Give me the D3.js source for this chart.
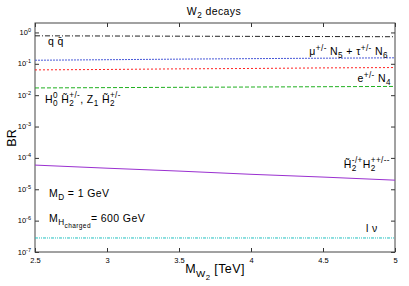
<!DOCTYPE html>
<html>
<head>
<meta charset="utf-8">
<script src="https://cdn.jsdelivr.net/npm/d3@7"></script>
<style>
  body { margin: 0; background: #fff; }
  svg { display: block; font-family: "Liberation Sans", Arial, sans-serif; }
</style>
</head>
<body>
<svg id="chart" width="409" height="286"></svg>
<script>
// data
const massW2 = [2.5, 3, 3.5, 4, 4.5, 5];
const brQQ = [0.78, 0.77, 0.76, 0.75, 0.74, 0.73];
const brMuTau = [0.130, 0.135, 0.141, 0.146, 0.151, 0.155];
const brE = [0.064, 0.066, 0.069, 0.071, 0.074, 0.076];
const brHZ = [0.0170, 0.0174, 0.0178, 0.0182, 0.0186, 0.0190];
const brHH = [5.9e-5, 4.7e-5, 3.8e-5, 3.0e-5, 2.45e-5, 1.95e-5];
const brLNu = [2.8e-7, 2.8e-7, 2.8e-7, 2.8e-7, 2.8e-7, 2.8e-7];
const xTicks = [2.5, 3, 3.5, 4, 4.5, 5];
const yTicks = [1e-7, 1e-6, 1e-5, 1e-4, 1e-3, 1e-2, 1e-1, 1];

const svg = d3.select('#chart');
const margin = { left: 35, right: 14, top: 23, bottom: 34 };
const W = 409, H = 286;

const x = d3.scaleLinear().domain([2.5, 5]).range([margin.left, W - margin.right]);
const y = d3.scaleLog().domain([1e-7, 2]).range([H - margin.bottom, margin.top]);

const tickLen = 4;

// axes (gnuplot style, ticks inside, mirrored)
svg.append('g')
    .attr('transform', 'translate(0,' + (H - margin.bottom) + ')')
    .call(d3.axisBottom(x).tickValues(xTicks).tickSize(-tickLen).tickPadding(6)
        .tickFormat(d => d))
    .call(g => g.selectAll('text').attr('font-size', 7.5).attr('fill', '#000')
        .attr('font-family', '"Liberation Sans", Arial, sans-serif'));
svg.append('g')
    .attr('transform', 'translate(0,' + margin.top + ')')
    .call(d3.axisTop(x).tickValues(xTicks).tickSize(-tickLen).tickFormat(''));

let yAxis = svg.append('g')
    .attr('transform', 'translate(' + margin.left + ',0)')
    .call(d3.axisLeft(y).tickValues(yTicks).tickSize(-tickLen).tickPadding(5).tickFormat(''));
svg.append('g')
    .attr('transform', 'translate(' + (W - margin.right) + ',0)')
    .call(d3.axisRight(y).tickValues(yTicks).tickSize(-tickLen).tickFormat(''));

svg.selectAll('.domain').remove();
svg.selectAll('.tick line').attr('stroke', '#333');

// y tick labels: 10^n
yAxis.selectAll('.tick').each(function (d) {
    let t = d3.select(this).append('text')
        .attr('x', -4).attr('y', 2)
        .attr('text-anchor', 'end')
        .attr('fill', '#000')
        .attr('font-size', 7.5)
        .attr('font-family', '"Liberation Sans", Arial, sans-serif');
    t.append('tspan').text('10');
    t.append('tspan').attr('dy', -3).attr('font-size', 5.5).text(Math.round(Math.log10(d)));
});

// frame
svg.append('rect')
    .attr('x', margin.left).attr('y', margin.top)
    .attr('width', W - margin.left - margin.right)
    .attr('height', H - margin.top - margin.bottom)
    .attr('fill', 'none').attr('stroke', '#444').attr('stroke-width', 1);

// curves
const series = [
    { v: brQQ, color: '#222', dash: '5,2,1,2' },
    { v: brMuTau, color: '#4858d8', dash: '2,1' },
    { v: brE, color: '#ff2020', dash: '2,2' },
    { v: brHZ, color: '#20b020', dash: '4,2' },
    { v: brHH, color: '#9a30d0', dash: null },
    { v: brLNu, color: '#20c0c0', dash: '3,1,1,1,1,1' }
];
const line = d3.line().x((d, i) => x(massW2[i])).y(d => y(d));
series.forEach(s => {
    svg.append('path')
        .datum(s.v)
        .attr('d', line)
        .attr('fill', 'none')
        .attr('stroke', s.color)
        .attr('stroke-width', 1)
        .attr('stroke-dasharray', s.dash);
});

// rich text helper: parts = [text, mode] with mode n / sub / subsub / sup / pair ([sub, sup] stacked)
function rich(px, py, parts, size, anchor) {
    let t = svg.append('text')
        .attr('x', px).attr('y', py)
        .attr('font-size', size)
        .attr('letter-spacing', 0.4)
        .attr('fill', '#000')
        .attr('text-anchor', anchor || 'start');
    let off = 0;
    let small = size * 0.78;
    function shift(target) { let d = target - off; off = target; return d; }
    parts.forEach(p => {
        let txt = p[0], mode = p[1] || 'n';
        if (mode == 'n') {
            t.append('tspan').attr('dy', shift(0)).attr('font-size', size).text(txt);
        } else if (mode == 'sub') {
            t.append('tspan').attr('dy', shift(size * 0.3)).attr('font-size', small).text(txt);
        } else if (mode == 'subsub') {
            t.append('tspan').attr('dy', shift(size * 0.55)).attr('font-size', small * 0.8).text(txt);
        } else if (mode == 'sup') {
            t.append('tspan').attr('dy', shift(-size * 0.4)).attr('font-size', small).text(txt);
        } else if (mode == 'pair') {
            let sb = t.append('tspan').attr('dy', shift(size * 0.3)).attr('font-size', small).text(txt[0]);
            let w = sb.node().getComputedTextLength();
            let sp = t.append('tspan').attr('dx', -w).attr('dy', shift(-size * 0.45)).attr('font-size', small).text(txt[1]);
            let w2 = sp.node().getComputedTextLength();
            if (w > w2) t.append('tspan').attr('dx', w - w2).text('');
        }
    });
    return t;
}

// title and axis labels
rich(214, 15, [['W'], ['2', 'sub'], [' decays']], 10.5, 'middle');
rich(215, 273, [['M'], ['W', 'sub'], ['2', 'subsub'], [' [TeV]']], 12.5, 'middle');
svg.append('text')
    .attr('transform', 'translate(16,' + 138 + ') rotate(-90)')
    .attr('text-anchor', 'middle')
    .attr('font-size', 12.5)
    .text('BR');

// curve labels
rich(48, 45, [['q q\u0304']], 10.5);
rich(388, 55, [['\u03bc'], ['+/-', 'sup'], [' N'], ['5', 'sub'], [' + \u03c4'], ['+/-', 'sup'], [' N'], ['6', 'sub']], 10.5, 'end');
rich(391, 82, [['e'], ['+/-', 'sup'], [' N'], ['4', 'sub']], 10.5, 'end');
rich(45, 103, [['H'], [['0', '0'], 'pair'], [' H\u0303'], [['2', '+/-'], 'pair'], [', Z'], ['1', 'sub'], [' H\u0303'], [['2', '+/-'], 'pair']], 10.5);
rich(390, 168, [['H\u0303'], [['2', '-/+'], 'pair'], ['H'], [['2', '++/--'], 'pair']], 10.5, 'end');
rich(49, 197, [['M'], ['D', 'sub'], [' = 1 GeV']], 10.5);
rich(49, 222, [['M'], ['H', 'sub'], ['charged', 'subsub'], ['= 600 GeV']], 10.5);
rich(366, 232, [['l \u03bd']], 10.5);
</script>
</body>
</html>
